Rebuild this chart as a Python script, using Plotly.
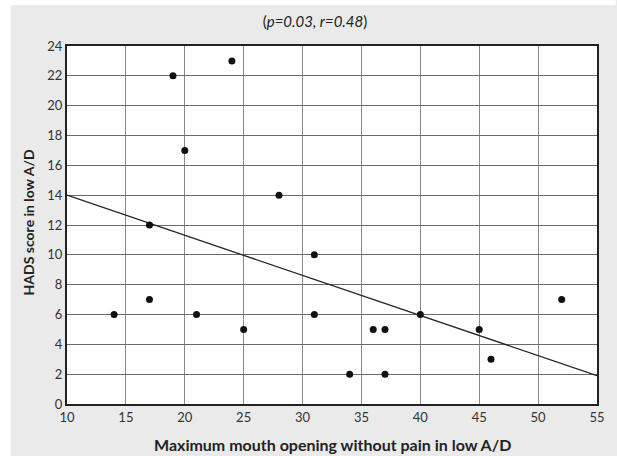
import plotly.graph_objects as go

# Data
mouth_opening = [14, 17, 17, 19, 20, 21, 24, 25, 28, 31, 31, 34, 36, 37, 37, 40, 45, 46, 52]
hads_score = [6, 12, 7, 22, 17, 6, 23, 5, 14, 10, 6, 2, 5, 5, 2, 6, 5, 3, 7]

fit_x = [10, 55]
fit_y = [14.0, 1.9]

x_ticks = [10, 15, 20, 25, 30, 35, 40, 45, 50, 55]
y_ticks = [0, 2, 4, 6, 8, 10, 12, 14, 16, 18, 20, 22, 24]

title_text = "(<i>p=0.03, r=0.48</i>)"
x_title = "<b>Maximum mouth opening without pain in low A/D</b>"
y_title = "<b>HADS score in low A/D</b>"

W, H = 617, 456
L, R, T, B = 67, 14, 46, 52
pw, ph = W - L - R, H - T - B

def px_x(px):
    return (px - L) / pw

def px_y(py):
    return (H - B - py) / ph

fig = go.Figure()
fig.add_trace(go.Scatter(x=fit_x, y=fit_y, mode="lines",
                         line=dict(color="#222222", width=1.3),
                         hoverinfo="skip", showlegend=False))
fig.add_trace(go.Scatter(x=mouth_opening, y=hads_score, mode="markers",
                         marker=dict(color="#111111", size=7),
                         showlegend=False))

font_main = "Lato, 'Open Sans', sans-serif"

fig.update_layout(
    width=W, height=H,
    margin=dict(l=L, r=R, t=T, b=B),
    paper_bgcolor="#eaeaeb",
    plot_bgcolor="white",
    font=dict(family=font_main, size=13, color="#333333"),
    title=dict(text=title_text, x=315 / W, xref="container", xanchor="center",
               y=1 - 22 / H, yref="container", yanchor="middle",
               font=dict(size=15, color="#222222", family=font_main)),
    shapes=[
        dict(type="rect", xref="paper", yref="paper", layer="above",
             x0=px_x(-5), x1=px_x(10), y0=px_y(H + 5), y1=px_y(-5),
             fillcolor="white", line=dict(width=0)),
        dict(type="rect", xref="paper", yref="paper", layer="above",
             x0=px_x(-5), x1=px_x(W + 5), y0=px_y(5), y1=px_y(-5),
             fillcolor="white", line=dict(width=0)),
    ],
    annotations=[
        dict(text=x_title, xref="paper", yref="paper",
             x=0.5, y=px_y(445), xanchor="center", yanchor="middle",
             showarrow=False, font=dict(size=16, color="#222222", family=font_main)),
        dict(text=y_title, xref="paper", yref="paper",
             x=px_x(28), y=px_y(222), xanchor="center", yanchor="middle",
             textangle=-90, showarrow=False,
             font=dict(size=14, color="#222222", family=font_main)),
    ],
)

fig.update_xaxes(range=[10, 55], tickvals=x_ticks, ticks="",
                 showgrid=True, gridcolor="#8a8a8a", gridwidth=1,
                 showline=True, mirror=True, linecolor="#222222", linewidth=2,
                 zeroline=False, tickfont=dict(size=13, color="#333333"))
fig.update_yaxes(range=[0, 24], tickvals=y_ticks, ticks="",
                 showgrid=True, gridcolor="#6a6a6a", gridwidth=1,
                 showline=True, mirror=True, linecolor="#222222", linewidth=2,
                 zeroline=False, tickfont=dict(size=13, color="#333333"))

fig.write_html("out.html",
               config={"displayModeBar": False},
               post_script="document.body.style.margin='0';document.body.style.overflow='hidden';")
